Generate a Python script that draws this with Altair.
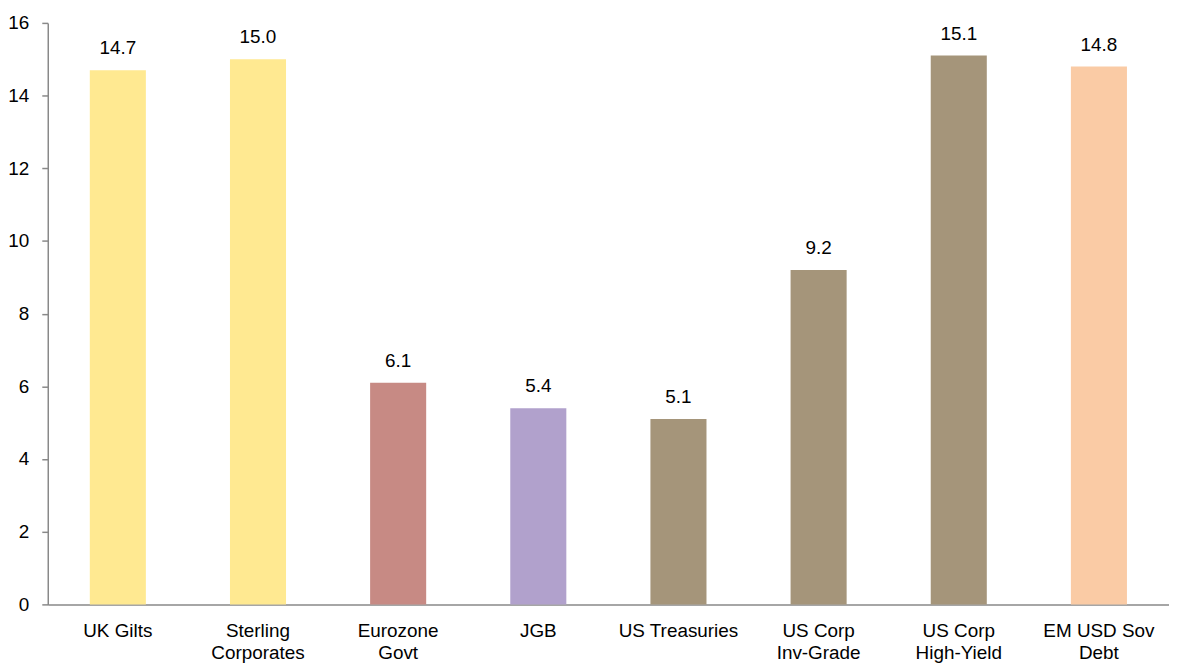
import altair as alt
import pandas as pd

categories = ["UK Gilts", "Sterling|Corporates", "Eurozone|Govt", "JGB", "US Treasuries",
              "US Corp|Inv-Grade", "US Corp|High-Yield", "EM USD Sov|Debt"]
values = [14.7, 15.0, 6.1, 5.4, 5.1, 9.2, 15.1, 14.8]
labels = ["14.7", "15.0", "6.1", "5.4", "5.1", "9.2", "15.1", "14.8"]
colors = ["#FFE991", "#FFE991", "#C78A84", "#B1A1CC", "#A5957A", "#A5957A", "#A5957A", "#FACBA5"]
y_ticks = [0, 2, 4, 6, 8, 10, 12, 14, 16]

df = pd.DataFrame({"cat": categories, "value": values, "label": labels, "color": colors})

FONT = "Liberation Sans"
FS = 19

x = alt.X("cat:N", sort=categories, title=None,
          scale=alt.Scale(paddingInner=0.6, paddingOuter=0.3),
          axis=alt.Axis(labelAngle=0, labelExpr="split(datum.label, '|')", labelFontSize=FS,
                        labelFont=FONT, labelColor="#000000", labelPadding=17, labelLineHeight=22,
                        ticks=False, domainColor="#898989", domainWidth=1.5, labelBaseline="top"))

bars = alt.Chart(df).mark_bar().encode(
    x=x,
    y=alt.Y("value:Q", title=None,
            scale=alt.Scale(domain=[0, 16], nice=False),
            axis=alt.Axis(values=y_ticks, grid=False, labelFontSize=FS, labelFont=FONT,
                          labelColor="#000000", tickColor="#898989", tickSize=6, tickWidth=1.5,
                          domainColor="#898989", domainWidth=1.5, labelPadding=13)),
    color=alt.Color("color:N", scale=None),
)

text = alt.Chart(df).mark_text(baseline="alphabetic", dy=-16, fontSize=FS, font=FONT, color="#000000").encode(
    x=alt.X("cat:N", sort=categories),
    y="value:Q",
    text="label:N",
)

chart = (bars + text).properties(
    width=1128, height=585,
    autosize=alt.AutoSizeParams(type="none"),
    padding={"left": 40, "top": 13, "right": 0, "bottom": 62},
    background="#ffffff",
).configure_view(stroke=None)

chart.save("out.html", embed_options={"renderer": "svg", "actions": False})
